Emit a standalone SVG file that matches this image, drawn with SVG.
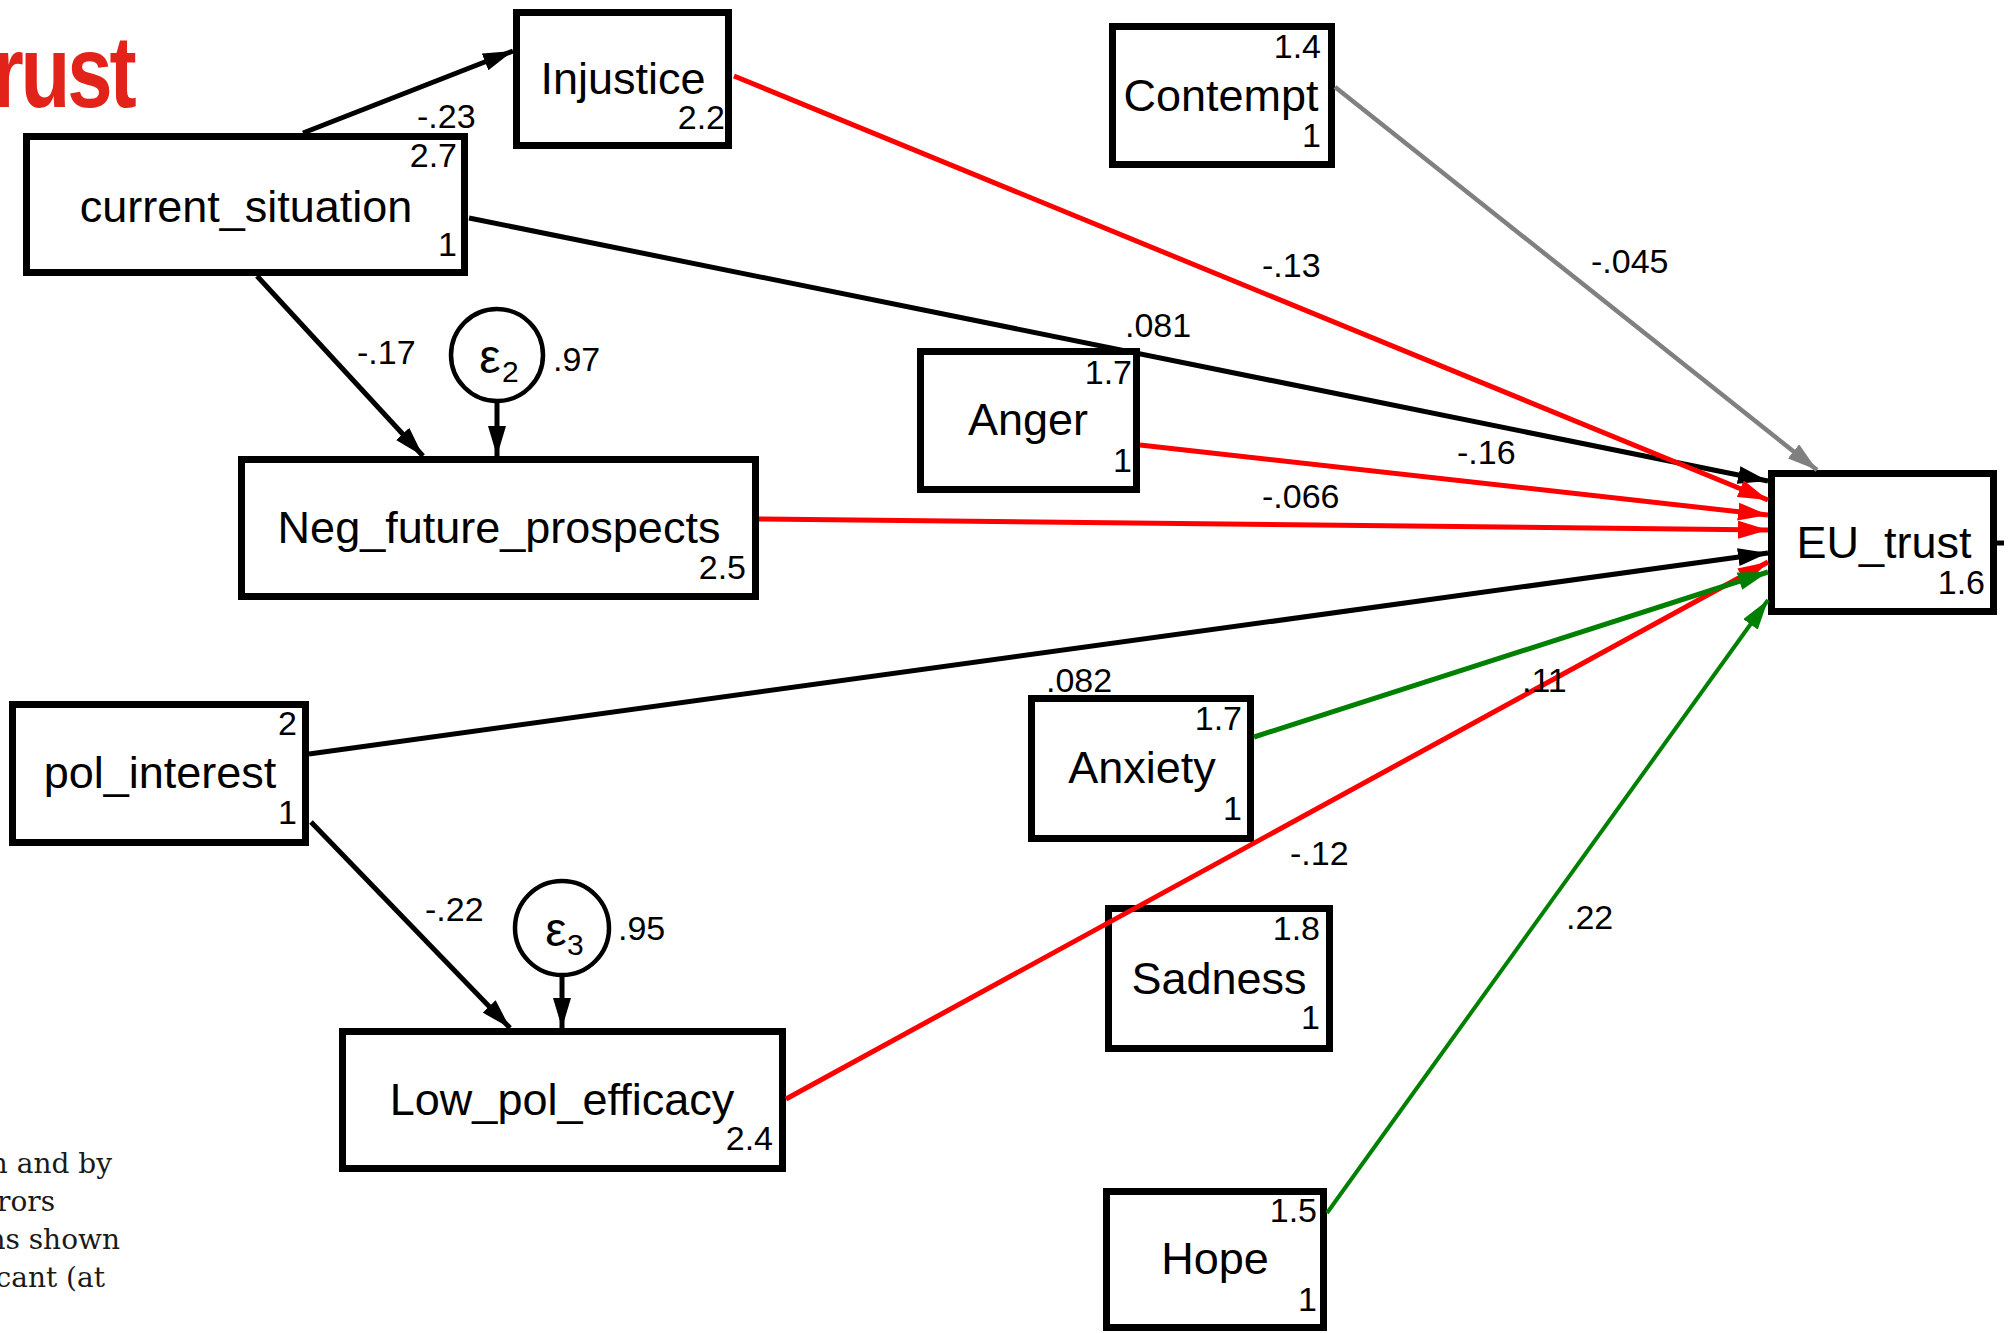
<svg xmlns="http://www.w3.org/2000/svg" width="2011" height="1333" viewBox="0 0 2011 1333">
  <style>
    .box { fill: #fff; stroke: #000; stroke-width: 7; }
    .err { fill: #fff; stroke: #000; stroke-width: 4.5; }
    .lbl { font-family: "Liberation Sans", Arial, sans-serif; font-size: 45px; text-anchor: middle; fill: #000; }
    .num { font-family: "Liberation Sans", Arial, sans-serif; font-size: 34px; text-anchor: end; fill: #000; }
    .coef { font-family: "Liberation Sans", Arial, sans-serif; font-size: 34px; fill: #000; }
    .eps { font-family: "Liberation Sans", Arial, sans-serif; font-size: 48px; text-anchor: middle; fill: #000; }
    .sub { font-family: "Liberation Sans", Arial, sans-serif; font-size: 30px; fill: #000; }
    .k { stroke: #000; stroke-width: 5; fill: none; marker-end: url(#ah-k); }
    .r { stroke: #ff0000; stroke-width: 5; fill: none; marker-end: url(#ah-r); }
    .g { stroke: #008000; stroke-width: 5; fill: none; marker-end: url(#ah-g); }
    .gy { stroke: #808080; stroke-width: 4.5; fill: none; marker-end: url(#ah-gy); }
    .note { font-family: "DejaVu Serif", "Liberation Serif", serif; font-size: 28px; text-anchor: end; fill: #1a1a1a; }
  </style>
  <defs>
    <marker id="ah-k" viewBox="0 0 30 18" refX="30" refY="9" markerWidth="30" markerHeight="18" markerUnits="userSpaceOnUse" orient="auto">
      <path d="M0,0 L30,9 L0,18 z" fill="#000"/>
    </marker>
    <marker id="ah-r" viewBox="0 0 30 18" refX="30" refY="9" markerWidth="30" markerHeight="18" markerUnits="userSpaceOnUse" orient="auto">
      <path d="M0,0 L30,9 L0,18 z" fill="#ff0000"/>
    </marker>
    <marker id="ah-g" viewBox="0 0 30 18" refX="30" refY="9" markerWidth="30" markerHeight="18" markerUnits="userSpaceOnUse" orient="auto">
      <path d="M0,0 L30,9 L0,18 z" fill="#008000"/>
    </marker>
    <marker id="ah-gy" viewBox="0 0 30 18" refX="30" refY="9" markerWidth="30" markerHeight="18" markerUnits="userSpaceOnUse" orient="auto">
      <path d="M0,0 L30,9 L0,18 z" fill="#808080"/>
    </marker>
  </defs>

  <rect width="2011" height="1333" fill="#fff"/>

  <!-- slide title fragment -->
  <text x="-10" y="107" transform="scale(0.8,1)" font-family="Liberation Sans, Arial, sans-serif" font-weight="bold" font-size="102" letter-spacing="-4" fill="#e2231a">rust</text>

  <!-- slide note fragment -->
  <g id="note">
    <text class="note" x="112" y="1173">n and by</text>
    <text class="note" x="55" y="1211">rors</text>
    <text class="note" x="120" y="1249">ns shown</text>
    <text class="note" x="105" y="1287">cant (at</text>
  </g>

  <!-- observed variables -->
  <g id="current_situation">
    <rect class="box" x="26.5" y="136.5" width="438" height="136"/>
    <text class="lbl" x="246" y="222">current_situation</text>
    <text class="num" x="457" y="167">2.7</text>
    <text class="num" x="457" y="256">1</text>
  </g>
  <g id="Injustice">
    <rect class="box" x="516.5" y="12.5" width="212" height="133"/>
    <text class="lbl" x="623" y="94">Injustice</text>
    <text class="num" x="725" y="129">2.2</text>
  </g>
  <g id="Contempt">
    <rect class="box" x="1112.5" y="26.5" width="219" height="138"/>
    <text class="lbl" x="1221" y="111">Contempt</text>
    <text class="num" x="1321" y="58">1.4</text>
    <text class="num" x="1321" y="147">1</text>
  </g>
  <g id="Anger">
    <rect class="box" x="920.5" y="351.5" width="216" height="138"/>
    <text class="lbl" x="1028" y="435">Anger</text>
    <text class="num" x="1132" y="384">1.7</text>
    <text class="num" x="1132" y="472">1</text>
  </g>
  <g id="Neg_future_prospects">
    <rect class="box" x="241.5" y="459.5" width="514" height="137"/>
    <text class="lbl" x="499" y="543">Neg_future_prospects</text>
    <text class="num" x="746" y="579">2.5</text>
  </g>
  <g id="e2">
    <circle class="err" cx="497" cy="355" r="46"/>
    <text class="eps" x="490" y="373">ε</text>
    <text class="sub" x="502" y="382">2</text>
  </g>
  <g id="pol_interest">
    <rect class="box" x="12.5" y="704.5" width="293" height="138"/>
    <text class="lbl" x="160" y="788">pol_interest</text>
    <text class="num" x="297" y="735">2</text>
    <text class="num" x="297" y="824">1</text>
  </g>
  <g id="Low_pol_efficacy">
    <rect class="box" x="342.5" y="1031.5" width="440" height="137"/>
    <text class="lbl" x="562" y="1115">Low_pol_efficacy</text>
    <text class="num" x="773" y="1150">2.4</text>
  </g>
  <g id="e3">
    <circle class="err" cx="562" cy="928" r="47"/>
    <text class="eps" x="556" y="946">ε</text>
    <text class="sub" x="567" y="955">3</text>
  </g>
  <g id="Anxiety">
    <rect class="box" x="1031.5" y="698.5" width="219" height="140"/>
    <text class="lbl" x="1142" y="783">Anxiety</text>
    <text class="num" x="1242" y="730">1.7</text>
    <text class="num" x="1242" y="820">1</text>
  </g>
  <g id="Sadness">
    <rect class="box" x="1108.5" y="908.5" width="221" height="140"/>
    <text class="lbl" x="1219" y="994">Sadness</text>
    <text class="num" x="1320" y="940">1.8</text>
    <text class="num" x="1320" y="1029">1</text>
  </g>
  <g id="Hope">
    <rect class="box" x="1106.5" y="1191.5" width="217" height="136"/>
    <text class="lbl" x="1215" y="1274">Hope</text>
    <text class="num" x="1317" y="1222">1.5</text>
    <text class="num" x="1317" y="1311">1</text>
  </g>
  <g id="EU_trust">
    <rect class="box" x="1771.5" y="473.5" width="222" height="138"/>
    <text class="lbl" x="1884" y="558">EU_trust</text>
    <text class="num" x="1985" y="594">1.6</text>
    <line x1="1997" y1="543" x2="2004" y2="543" stroke="#000" stroke-width="5"/>
  </g>

  <!-- paths -->
  <g id="connectors">
    <line class="k" x1="303" y1="133" x2="513" y2="51"/>
    <line class="k" x1="257" y1="276" x2="423" y2="456"/>
    <line class="k" x1="497" y1="401" x2="497" y2="456"/>
    <line class="k" x1="311" y1="822" x2="510" y2="1028"/>
    <line class="k" x1="562" y1="975" x2="562" y2="1028"/>
    <line class="k" x1="469" y1="218" x2="1768" y2="481"/>
    <line class="r" x1="734" y1="76" x2="1768" y2="500"/>
    <line class="gy" x1="1335" y1="87" x2="1817" y2="470"/>
    <line class="r" x1="1140" y1="445" x2="1768" y2="515"/>
    <line class="r" x1="759" y1="519" x2="1768" y2="530"/>
    <line class="k" x1="309" y1="754" x2="1768" y2="553"/>
    <line class="r" x1="786" y1="1099" x2="1768" y2="562"/>
    <line class="g" x1="1254" y1="737" x2="1768" y2="572"/>
    <line class="g" x1="1327" y1="1213" x2="1768" y2="600" style="stroke-width:4"/>
  </g>

  <!-- path coefficients and error variances -->
  <g id="coefficients">
    <text class="coef" x="417" y="128">-.23</text>
    <text class="coef" x="357" y="364">-.17</text>
    <text class="coef" x="553" y="371">.97</text>
    <text class="coef" x="425" y="921">-.22</text>
    <text class="coef" x="618" y="940">.95</text>
    <text class="coef" x="1125" y="337">.081</text>
    <text class="coef" x="1262" y="277">-.13</text>
    <text class="coef" x="1591" y="273">-.045</text>
    <text class="coef" x="1457" y="464">-.16</text>
    <text class="coef" x="1262" y="508">-.066</text>
    <text class="coef" x="1046" y="692">.082</text>
    <text class="coef" x="1522" y="692">.11</text>
    <text class="coef" x="1290" y="865">-.12</text>
    <text class="coef" x="1566" y="929">.22</text>
  </g>
</svg>
